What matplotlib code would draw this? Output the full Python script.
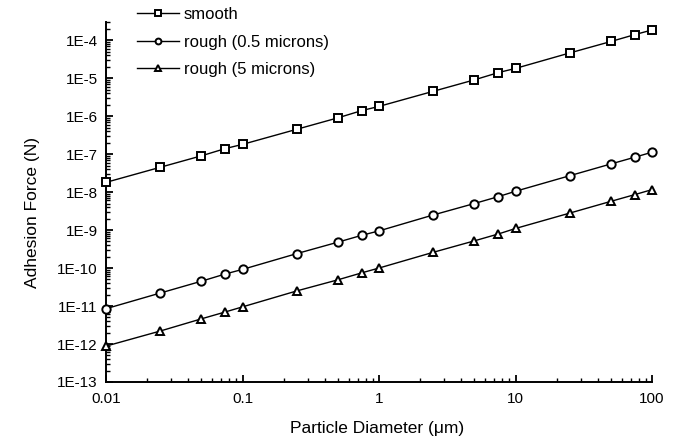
import matplotlib
matplotlib.use("Agg")
import matplotlib.pyplot as plt
from matplotlib.ticker import FixedLocator, LogLocator, NullFormatter, FixedFormatter

plt.rcParams['font.family'] = ['Liberation Sans', 'DejaVu Sans']

diameter = [0.01, 0.025, 0.05, 0.075, 0.1, 0.25, 0.5, 0.75, 1, 2.5, 5, 7.5, 10, 25, 50, 75, 100]
smooth = [1.8e-8, 4.5e-8, 9e-8, 1.4e-7, 1.8e-7, 4.5e-7, 9e-7, 1.4e-6, 1.8e-6,
          4.5e-6, 9e-6, 1.4e-5, 1.8e-5, 4.6e-5, 9.2e-5, 1.4e-4, 1.85e-4]
rough_05 = [8.5e-12, 2.2e-11, 4.5e-11, 7e-11, 9.2e-11, 2.4e-10, 4.8e-10, 7.3e-10, 9.5e-10,
            2.5e-9, 5e-9, 7.6e-9, 1.05e-8, 2.7e-8, 5.5e-8, 8.3e-8, 1.12e-7]
rough_5 = [8.8e-13, 2.2e-12, 4.6e-12, 7e-12, 9.5e-12, 2.5e-11, 4.9e-11, 7.5e-11, 1e-10,
           2.6e-10, 5.2e-10, 7.9e-10, 1.1e-9, 2.8e-9, 5.7e-9, 8.6e-9, 1.16e-8]
series_labels = ['smooth', 'rough (0.5 microns)', 'rough (5 microns)']
markers = ['s', 'o', '^']

x_ticks = [0.01, 0.1, 1, 10, 100]
x_ticklabels = ['0.01', '0.1', '1', '10', '100']
y_ticks = [1e-13, 1e-12, 1e-11, 1e-10, 1e-9, 1e-8, 1e-7, 1e-6, 1e-5, 1e-4]
y_ticklabels = ['1E-13', '1E-12', '1E-11', '1E-10', '1E-9', '1E-8', '1E-7', '1E-6', '1E-5', '1E-4']

fig = plt.figure(figsize=(6.73, 4.41), dpi=100)
ax = fig.add_axes([106/673, 1-382/441, 546/673, 360/441])

lines = []
for ys, m, lab in zip([smooth, rough_05, rough_5], markers, series_labels):
    ms = 5.5 if m == 's' else 6
    l, = ax.plot(diameter, ys, color='black', lw=1.0, marker=m, markersize=ms,
                 markerfacecolor='white', markeredgecolor='black', markeredgewidth=1.4,
                 label=lab, clip_on=False, zorder=3)
    lines.append(l)

ax.set_xscale('log')
ax.set_yscale('log')
ax.set_xlim(0.01, 100)
ax.set_ylim(1e-13, 3e-4)

ax.xaxis.set_major_locator(FixedLocator(x_ticks))
ax.xaxis.set_major_formatter(FixedFormatter(x_ticklabels))
ax.xaxis.set_minor_locator(LogLocator(base=10, subs=range(2, 10), numticks=20))
ax.xaxis.set_minor_formatter(NullFormatter())
ax.yaxis.set_major_locator(FixedLocator(y_ticks))
ax.yaxis.set_major_formatter(FixedFormatter(y_ticklabels))
ax.yaxis.set_minor_locator(LogLocator(base=10, subs=range(2, 10), numticks=30))
ax.yaxis.set_minor_formatter(NullFormatter())

for s in ['top', 'right']:
    ax.spines[s].set_visible(False)
for s in ['left', 'bottom']:
    ax.spines[s].set_linewidth(1.4)

ax.tick_params(axis='both', which='major', direction='in', length=5, width=1.3, labelsize=11)
ax.tick_params(axis='both', which='minor', direction='in', length=3, width=1.0)
ax.tick_params(axis='x', which='major', pad=7)
ax.tick_params(axis='y', which='major', pad=6)

ax.set_xlabel('Particle Diameter (\u03bcm)', fontsize=12.5)
ax.set_ylabel('Adhesion Force (N)', fontsize=12.5)
ax.xaxis.set_label_coords(0.497, -0.128)
ax.xaxis.label.set_va('center')
ax.yaxis.set_label_coords(-0.135, 0.47)
ax.yaxis.label.set_va('center')

leg = ax.legend(handles=lines, loc='upper left', bbox_to_anchor=(137/673, 1-7/441),
                bbox_transform=fig.transFigure, frameon=False, fontsize=12,
                handlelength=2.5, handletextpad=0.3, labelspacing=0.75,
                borderpad=0, borderaxespad=0, markerscale=0.7)

fig.savefig('out.png', dpi=100)
